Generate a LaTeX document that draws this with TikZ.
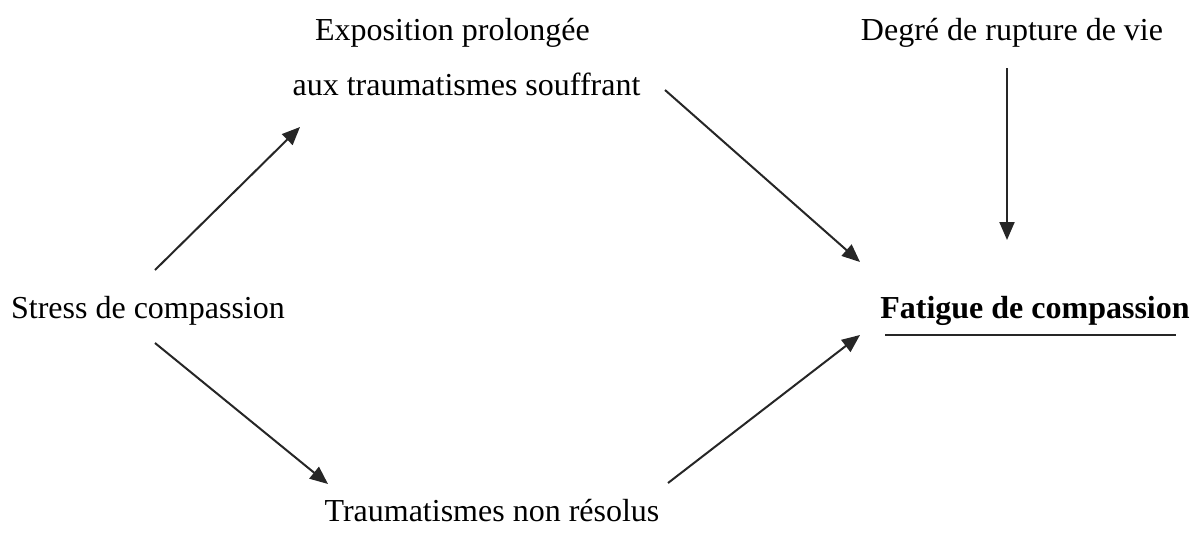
\documentclass[tikz,border=0pt]{standalone}
\usepackage{fontspec}
\setmainfont{Liberation Serif}
\usetikzlibrary{arrows.meta}
\begin{document}
\begin{tikzpicture}[x=1pt,y=-1pt,
  lbl/.style={inner sep=0pt,anchor=base,font=\fontsize{32}{38}\selectfont},
  conn/.style={line width=2pt,black!85,-{Triangle[length=18pt,width=15pt]}}]
\useasboundingbox (0,0) rectangle (1198,539);
\node[lbl] (expo1) at (452.5,40) {Exposition prolongée};
\node[lbl] (expo2) at (466.5,95) {aux traumatismes souffrant};
\node[lbl] (degre) at (1012,40) {Degré de rupture de vie};
\node[lbl] (stress) at (148,318) {Stress de compassion};
\node[lbl,font=\fontsize{32}{38}\selectfont\bfseries] (fatigue) at (1035,318) {Fatigue de compassion};
\node[lbl] (trauma) at (492,521) {Traumatismes non résolus};
\coordinate (a1s) at (155,270); \coordinate (a1e) at (300,127);
\coordinate (a2s) at (665,90);  \coordinate (a2e) at (860,262);
\coordinate (a3s) at (1007,68); \coordinate (a3e) at (1007,240);
\coordinate (a4s) at (155,343); \coordinate (a4e) at (328,484);
\coordinate (a5s) at (668,483); \coordinate (a5e) at (860,335);
\coordinate (u1) at (885,335); \coordinate (u2) at (1176,335);
\draw[conn] (a1s) -- (a1e);
\draw[conn] (a2s) -- (a2e);
\draw[conn] (a3s) -- (a3e);
\draw[conn] (a4s) -- (a4e);
\draw[conn] (a5s) -- (a5e);
\draw[line width=1.5pt,black!85] (u1) -- (u2);
\end{tikzpicture}
\end{document}
